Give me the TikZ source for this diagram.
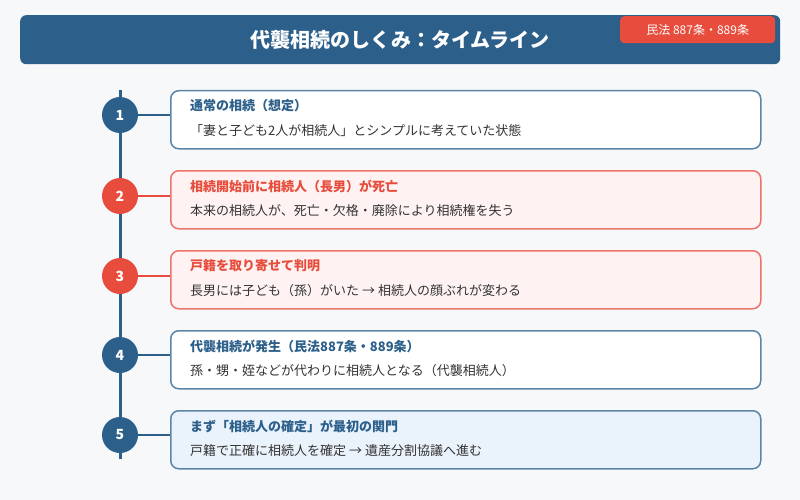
\documentclass[tikz,border=0pt]{standalone}
\usepackage{fontspec}
\setmainfont{Noto Sans CJK JP}
\newfontfamily\jpbold{Noto Sans CJK JP Bold}
\definecolor{bg}{HTML}{F7F8FA}
\definecolor{navy}{HTML}{2C5F8A}
\definecolor{bluebd}{HTML}{5B86A8}
\definecolor{redc}{HTML}{E74C3C}
\definecolor{redbd}{HTML}{EC7468}
\definecolor{redfill}{HTML}{FEF3F2}
\definecolor{bluefill}{HTML}{EAF2FB}
\definecolor{bodytxt}{HTML}{333333}
\tikzset{
  stepcircle/.style={circle, minimum size=36pt, inner sep=0pt, text=white, font=\fontsize{14}{14}\selectfont\bfseries},
  stepbox/.style={rounded corners=8pt, line width=1.5pt, minimum width=590pt, minimum height=58pt, anchor=north west, inner sep=0pt},
  boxtitle/.style={anchor=west, inner sep=0pt, font=\fontsize{13}{13}\selectfont\bfseries},
  boxbody/.style={anchor=west, inner sep=0pt, text=bodytxt, font=\fontsize{13}{13}\selectfont},
}
\begin{document}
\begin{tikzpicture}[x=1pt,y=-1pt]
\useasboundingbox (0,0) rectangle (800,500);
\fill[bg] (0,0) rectangle (800,500);
% header
\node[fill=navy, rounded corners=6pt, minimum width=760pt, minimum height=49pt, inner sep=0pt, anchor=north west] (hdr) at (20,15) {};
\node[text=white, font=\fontsize{20}{20}\selectfont\bfseries] (title) at (400,39.5) {代襲相続のしくみ：タイムライン};
\node[fill=redc, rounded corners=4pt, minimum width=155pt, minimum height=27pt, inner sep=0pt, anchor=north west, text=white, font=\fontsize{12}{12}\selectfont] (badge) at (620,16) {民法 887条・889条};
% vertical line
\coordinate (ltop) at (120,90);
\coordinate (lbot) at (120,459);
\draw[navy, line width=3pt] (ltop) -- (lbot);
% boxes
\node[stepbox, draw=bluebd, fill=white] (b1) at (170,90) {};
\node[stepbox, draw=redbd, fill=redfill] (b2) at (170,170) {};
\node[stepbox, draw=redbd, fill=redfill] (b3) at (170,250) {};
\node[stepbox, draw=bluebd, fill=white] (b4) at (170,330) {};
\node[stepbox, draw=bluebd, fill=bluefill] (b5) at (170,410) {};
% circles
\node[stepcircle, fill=navy] (c1) at (120,115) {1};
\node[stepcircle, fill=redc] (c2) at (120,196) {2};
\node[stepcircle, fill=redc] (c3) at (120,276) {3};
\node[stepcircle, fill=navy] (c4) at (120,355) {4};
\node[stepcircle, fill=navy] (c5) at (120,435) {5};
% connectors
\draw[navy, line width=2pt] (c1.east) -- (c1.east -| b1.west);
\draw[redc, line width=2pt] (c2.east) -- (c2.east -| b2.west);
\draw[redc, line width=2pt] (c3.east) -- (c3.east -| b3.west);
\draw[navy, line width=2pt] (c4.east) -- (c4.east -| b4.west);
\draw[navy, line width=2pt] (c5.east) -- (c5.east -| b5.west);
% texts
\node[boxtitle, text=navy] (t1) at (190,106) {通常の相続（想定）};
\node[boxbody] (d1) at (190,131) {「妻と子ども2人が相続人」とシンプルに考えていた状態};
\node[boxtitle, text=redc] (t2) at (190,186) {相続開始前に相続人（長男）が死亡};
\node[boxbody] (d2) at (190,211) {本来の相続人が、死亡・欠格・廃除により相続権を失う};
\node[boxtitle, text=redc] (t3) at (190,266) {戸籍を取り寄せて判明};
\node[boxbody] (d3) at (190,291) {長男には子ども（孫）がいた → 相続人の顔ぶれが変わる};
\node[boxtitle, text=navy] (t4) at (190,346) {代襲相続が発生（民法887条・889条）};
\node[boxbody] (d4) at (190,371) {孫・甥・姪などが代わりに相続人となる（代襲相続人）};
\node[boxtitle, text=navy] (t5) at (190,426) {まず「相続人の確定」が最初の関門};
\node[boxbody] (d5) at (190,451) {戸籍で正確に相続人を確定 → 遺産分割協議へ進む};
\end{tikzpicture}
\end{document}
